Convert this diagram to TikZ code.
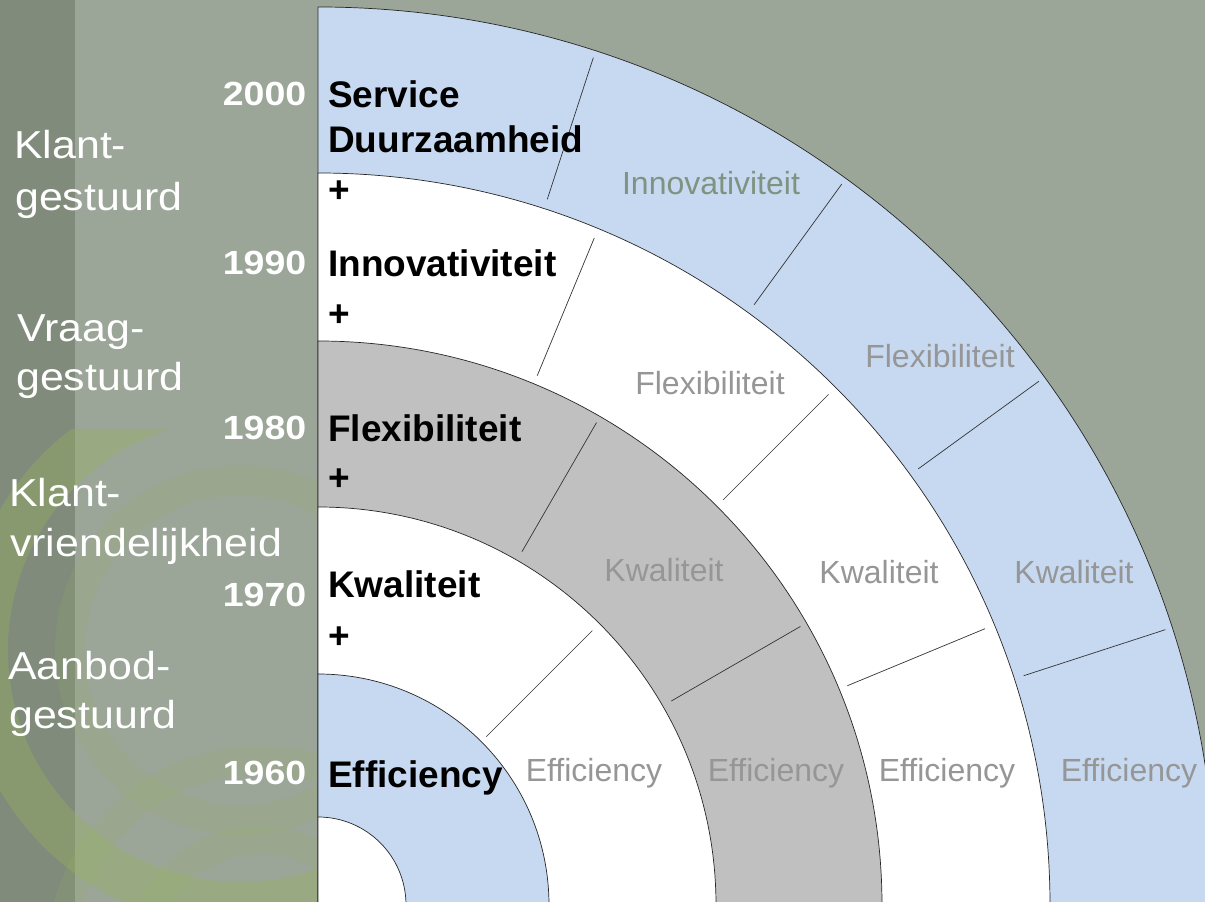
\documentclass[tikz,border=0pt]{standalone}
\usepackage{fontspec}
\setmainfont{Liberation Sans}
\usepackage{xcolor}
\usetikzlibrary{positioning}

\definecolor{bggreen}{RGB}{155,165,152}
\definecolor{bgdark}{RGB}{128,139,123}
\definecolor{swirl}{RGB}{152,180,90}
\definecolor{ringblue}{RGB}{198,217,241}
\definecolor{ringgray}{RGB}{192,192,192}
\definecolor{labelgray}{RGB}{150,150,150}
\definecolor{labelgreen}{RGB}{128,146,128}

\begin{document}
\begin{tikzpicture}
[
x=1pt, y=1pt,
ring-a/.style={draw=black!85, line width=0.7pt},
div-a/.style={draw=black!80, line width=0.7pt},
text-a/.style={black, inner sep=0pt, anchor=base west, font=\fontsize{37}{40}\selectfont\bfseries},
text-b/.style={labelgray, inner sep=0pt, anchor=base, font=\fontsize{32}{36}\selectfont},
text-c/.style={white, inner sep=0pt, anchor=base west, xscale=1.1, transform shape, font=\fontsize{39}{44}\selectfont},
year-a/.style={white, inner sep=0pt, anchor=base east, xscale=1.12, transform shape, font=\fontsize{33.5}{38}\selectfont\bfseries}
]
% background
\useasboundingbox (-318,3) rectangle (887,905);
\clip (-318,3) rectangle (887,905);
\fill[bggreen] (-318,3) rectangle (887,905);
\fill[bgdark]  (-318,3) rectangle (-243,905);
\begin{scope}
\clip (-318,3) rectangle (0,475);
\draw[swirl, opacity=0.35, line width=46pt] (-78,255) circle[radius=255];
\draw[swirl, opacity=0.15, line width=30pt] (-78,255) circle[radius=170];
\foreach \r in {120,200}
  \draw[swirl, opacity=0.15, line width=28pt] (-58,-55) circle[radius=\r];
\end{scope}

% rings, outside in
\filldraw[ring-a, fill=ringblue]  (0,0) -- (0,898) arc[start angle=90, end angle=0, radius=898] -- cycle;
\filldraw[ring-a, fill=white]     (0,0) -- (0,732) arc[start angle=90, end angle=0, radius=732] -- cycle;
\filldraw[ring-a, fill=ringgray]  (0,0) -- (0,564) arc[start angle=90, end angle=0, radius=564] -- cycle;
\filldraw[ring-a, fill=white]     (0,0) -- (0,398) arc[start angle=90, end angle=0, radius=398] -- cycle;
\filldraw[ring-a, fill=ringblue]  (0,0) -- (0,231) arc[start angle=90, end angle=0, radius=231] -- cycle;
\filldraw[ring-a, fill=white]     (0,0) -- (0,88)  arc[start angle=90, end angle=0, radius=88]  -- cycle;

% dividers
\foreach \a in {18,36,54,72}  \draw[div-a] (\a:742) -- (\a:891);
\foreach \a in {22.5,45,67.5} \draw[div-a] (\a:573) -- (\a:722);
\foreach \a in {30,60}        \draw[div-a] (\a:408) -- (\a:557);
\draw[div-a] (45:238) -- (45:388);

% left column
\node (klant-1)   [text-c] at (-304,746) {Klant-};
\node (klant-2)   [text-c] at (-303,694) {gestuurd};
\node (vraag-1)   [text-c] at (-301,563) {Vraag-};
\node (vraag-2)   [text-c] at (-302,514) {gestuurd};
\node (vriend-1)  [text-c] at (-309,398) {Klant-};
\node (vriend-2)  [text-c] at (-308,348) {vriendelijkheid};
\node (aanbod-1)  [text-c] at (-310,225) {Aanbod-};
\node (aanbod-2)  [text-c] at (-309,176) {gestuurd};

% years
\node (yr-2000)   [year-a] at (-11.5,799) {2000};
\node (yr-1990)   [year-a] at (-11.5,630) {1990};
\node (yr-1980)   [year-a] at (-11.5,465) {1980};
\node (yr-1970)   [year-a] at (-11.5,298) {1970};
\node (yr-1960)   [year-a] at (-11.5,120) {1960};

% era labels
\node (service)   [text-a] at (10,797) {Service};
\node (duurz)     [text-a] at (10,752) {Duurzaamheid};
\node (plus-1)    [text-a] at (10,702) {+};
\node (innov)     [text-a] at (10,628) {Innovativiteit};
\node (plus-2)    [text-a] at (10,578) {+};
\node (flex)      [text-a] at (10,463) {Flexibiliteit};
\node (plus-3)    [text-a] at (10,414) {+};
\node (kwal)      [text-a] at (10,307) {Kwaliteit};
\node (plus-4)    [text-a] at (10,256) {+};
\node (effic)     [text-a] at (10,117) {Efficiency};

% ring labels
\node (innov-5)   [text-b, labelgreen] at (393,710) {Innovativiteit};
\node (flex-5)    [text-b] at (622,537) {Flexibiliteit};
\node (flex-4)    [text-b] at (392,510) {Flexibiliteit};
\node (kwal-5)    [text-b] at (756,321) {Kwaliteit};
\node (kwal-4)    [text-b] at (561,321) {Kwaliteit};
\node (kwal-3)    [text-b] at (346,323) {Kwaliteit};
\node (effic-5)   [text-b] at (811,123) {Efficiency};
\node (effic-4)   [text-b] at (629,123) {Efficiency};
\node (effic-3)   [text-b] at (458,123) {Efficiency};
\node (effic-2)   [text-b] at (276,123) {Efficiency};
\end{tikzpicture}
\end{document}
